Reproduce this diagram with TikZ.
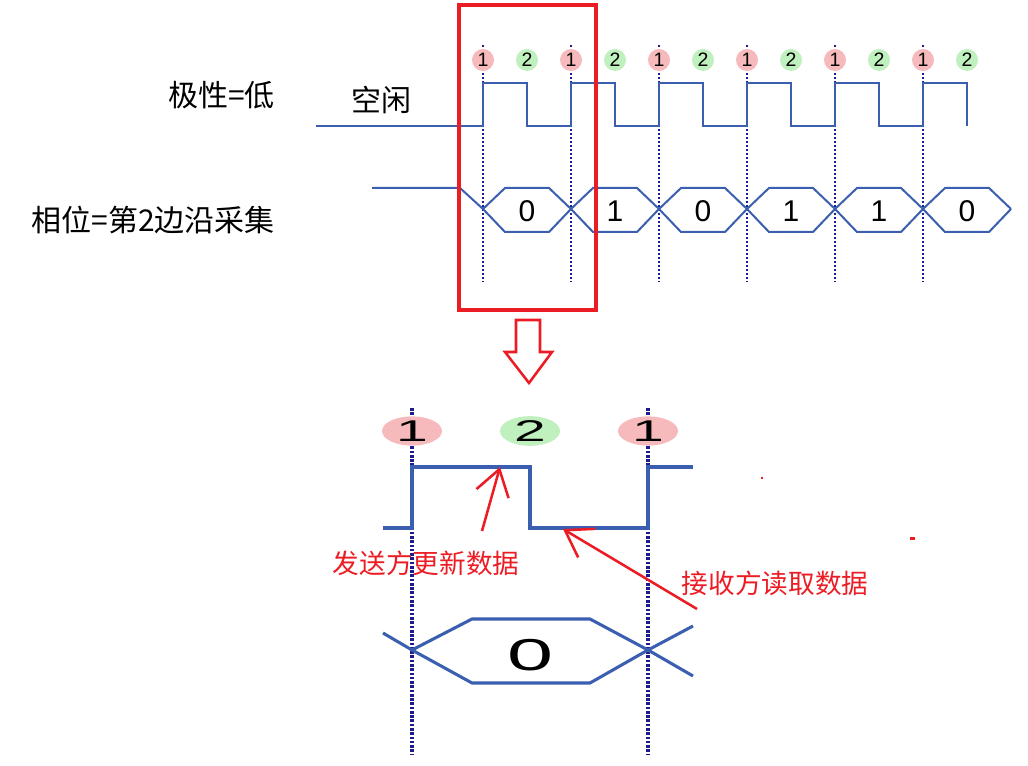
\documentclass[tikz,border=0pt]{standalone}
\usepackage{fontspec}
\setmainfont{Liberation Sans}
\newfontfamily\cjk{Noto Sans CJK SC}
\usepackage{graphicx}
\usetikzlibrary{arrows.meta, shapes.geometric}
\usepackage{xcolor}

\definecolor{sigblue}{RGB}{58,94,176}
\definecolor{tickblue}{RGB}{28,28,140}
\definecolor{pinkA}{RGB}{246,186,188}
\definecolor{greenB}{RGB}{192,240,190}
\definecolor{redmark}{RGB}{236,28,36}

\tikzset{
  sig/.style={sigblue, line width=1.5pt, line join=miter},
  bigsig/.style={sigblue, line width=2.3pt, line join=miter},
  tick/.style={tickblue, line width=1.6pt, dash pattern=on 1.4pt off 1.6pt},
  bigtick/.style={tickblue, line width=3.2pt, dash pattern=on 2pt off 1.2pt},
  edgeA/.style={circle, fill=pinkA, minimum size=16.5pt, inner sep=0pt,
                font=\fontsize{14.6}{16}\selectfont},
  edgeB/.style={edgeA, fill=greenB},
  bigA/.style={ellipse, fill=pinkA, minimum width=45pt, minimum height=20pt,
               inner sep=0pt, font=\fontsize{22.5}{24}\selectfont},
  bigB/.style={bigA, fill=greenB},
  bit/.style={font=\fontsize{22.5}{24}\selectfont},
  lbl/.style={font=\cjk\fontsize{22.5}{26}\selectfont, inner sep=0pt},
  note/.style={text=redmark, font=\cjk\fontsize{20}{24}\selectfont, inner sep=0pt},
  callout/.style={redmark, line width=1.9pt,
                  -{Straight Barb[length=19pt, width=25pt]}},
}

\begin{document}
\begin{tikzpicture}[x=0.75pt, y=-0.75pt]
  \useasboundingbox (0,0) rectangle (1028,766);

  % labels
  \node[lbl, anchor=east] (polarity) at (275,95) {极性=低};
  \node[lbl, anchor=east] (phase) at (275,220) {相位=第2边沿采集};
  \node[lbl] (idle) at (381,100) {空闲};

  % clock edges
  \foreach \i in {0,...,5} {
    \draw[tick] ({483+88*\i},45) -- ({483+88*\i},282);
  }
  \draw[sig] (316,126) foreach \i in {0,...,5} {
    -- ({483+88*\i},126) -- ++(0,-43) -- ++(44,0) -- ++(0,43) };
  \foreach \i in {0,...,5} {
    \node[edgeA] (a\i) at ({483+88*\i},60) {1};
    \node[edgeB] (b\i) at ({527+88*\i},60) {2};
  }

  % data bits
  \draw[sig] (372,188) -- (460,188) -- (483,209);
  \foreach \b [count=\i from 0] in {0,1,0,1,1,0} {
    \draw[sig] ({483+88*\i},209) -- ++(22,-21) -- ++(44,0) -- ++(22,21)
               ({483+88*\i},209) -- ++(22,23) -- ++(44,0) -- ++(22,-23);
    \node[bit] (d\i) at ({527+88*\i},211) {\b};
  }

  \draw[redmark, line width=2.3pt] (459,5) rectangle (596,310);
  \draw[redmark, line width=1.9pt, line join=miter]
    (516,320) -- (540,320) -- (540,352) -- (552,352) -- (529,383)
    -- (505,352) -- (516,352) -- cycle;

  % zoomed view
  \draw[bigtick] (412,408) -- (412,755);
  \draw[bigtick] (648,408) -- (648,755);
  \node[bigA] (za) at (412,431) {\scalebox{1.9}[1]{1}};
  \node[bigB] (zb) at (530,431) {\scalebox{1.9}[1]{2}};
  \node[bigA] (zc) at (648,431) {\scalebox{1.9}[1]{1}};
  \draw[bigsig] (383,528) -- (412,528) -- (412,467) -- (530,467) -- (530,528)
    -- (648,528) -- (648,467) -- (693,467);
  \draw[bigsig] (383,633) -- (412,650) -- (472,683) -- (590,683) -- (648,650)
    -- (693,626);
  \draw[bigsig] (412,650) -- (472,619) -- (590,619) -- (648,650) -- (693,676);
  \node[font=\fontsize{33.5}{36}\selectfont] (zd) at (530,655)
    {\scalebox{1.85}[1]{0}};

  \coordinate (upd) at (500,467);
  \coordinate (updtail) at (482,531);
  \coordinate (rd) at (563,529);
  \coordinate (rdtail) at (697,609);
  \draw[callout] (updtail) -- (upd);
  \draw[callout] (rdtail) -- (rd);
  \node[note] (send) at (426,563) {发送方更新数据};
  \node[note] (recv) at (775,583) {接收方读取数据};

  \fill[redmark] (761,477) rectangle (763,479);
  \fill[redmark] (910,537) rectangle (915,540);
\end{tikzpicture}
\end{document}
